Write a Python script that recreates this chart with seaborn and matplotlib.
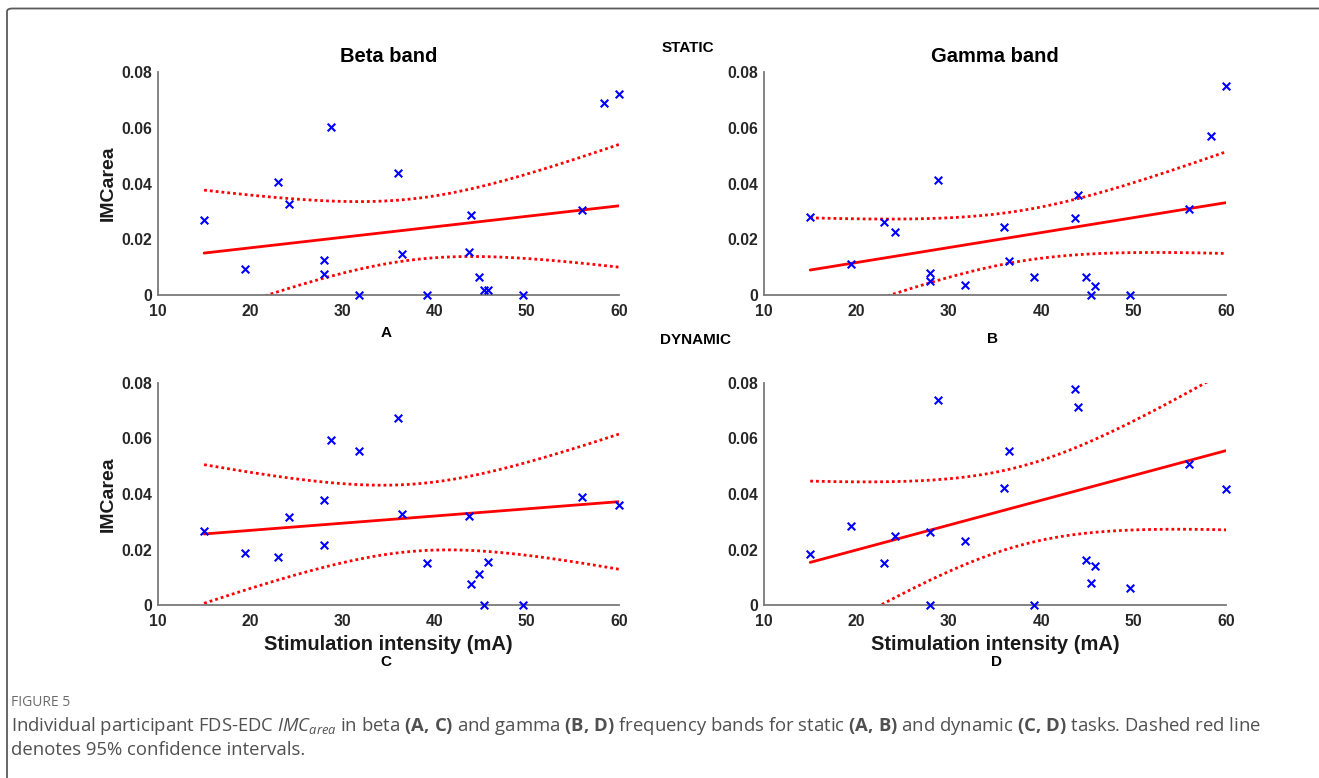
import numpy as np
import pandas as pd
import seaborn as sns
import matplotlib
matplotlib.use("Agg")
import matplotlib.pyplot as plt
from matplotlib.patches import Rectangle, FancyBboxPatch
from matplotlib.ticker import FixedLocator, FuncFormatter

# ---------------- data ----------------
intensity = [15.0, 19.4, 23.0, 24.2, 28.0, 28.0, 28.8, 31.8, 36.0, 36.5,
             39.2, 43.7, 44.0, 44.8, 45.4, 45.8, 49.6, 56.0, 58.4, 60.0]

static_beta = [0.0268, 0.0095, 0.0404, 0.0328, 0.0124, 0.0075, 0.0602, 0.0000, 0.0436, 0.0147,
               0.0000, 0.0153, 0.0287, 0.0064, 0.0017, 0.0019, 0.0000, 0.0306, 0.0687, 0.0720]
static_gamma = [0.0280, 0.0110, 0.0262, 0.0225, 0.0079, 0.0049, 0.0414, 0.0036, 0.0243, 0.0122,
                0.0066, 0.0278, 0.0359, 0.0063, 0.0000, 0.0033, 0.0000, 0.0309, 0.0571, 0.0751]
# value at 58.4 mA lies above the 0.08 axis limit (not visible), estimated
dynamic_beta = [0.0266, 0.0188, 0.0173, 0.0317, 0.0380, 0.0215, 0.0594, 0.0554, 0.0675, 0.0327,
                0.0151, 0.0320, 0.0074, 0.0113, 0.0000, 0.0154, 0.0000, 0.0390, 0.1050, 0.0362]
dynamic_gamma = [0.0184, 0.0283, 0.0153, 0.0250, 0.0262, 0.0000, 0.0739, 0.0230, 0.0422, 0.0554,
                 0.0000, 0.0777, 0.0714, 0.0162, 0.0079, 0.0141, 0.0062, 0.0508, 0.1230, 0.0417]

panel_titles = ["Beta band", "Gamma band", "", ""]
panel_letters = ["A", "B", "C", "D"]
x_ticks = [10, 20, 30, 40, 50, 60]
y_ticks = [0, 0.02, 0.04, 0.06, 0.08]
T_975_DF18 = 2.100922  # t quantile for 95% CI, n-2 = 18 dof

# ---------------- style ----------------
sns.set_theme(style="white")
plt.rcParams['font.family'] = ['Liberation Sans', 'DejaVu Sans']
plt.rcParams['mathtext.fontset'] = 'custom'
plt.rcParams['mathtext.rm'] = 'Open Sans'
plt.rcParams['mathtext.it'] = 'Open Sans:italic'
plt.rcParams['mathtext.bf'] = 'Open Sans:bold'

W, H = 1319, 778
fig = plt.figure(figsize=(W / 100, H / 100), dpi=100)
fig.patch.set_facecolor("white")

def fx(px):
    return px / W

def fy(py):
    return 1 - py / H

axes_px = [(158, 619, 72, 295), (764, 1226, 72, 295),
           (158, 619, 383, 605), (764, 1226, 383, 605)]
series = [static_beta, static_gamma, dynamic_beta, dynamic_gamma]

SPINE = "#7a7a7a"
TICKC = "#262626"

for i, ((l, r, t, b), ys) in enumerate(zip(axes_px, series)):
    ax = fig.add_axes([fx(l), fy(b), fx(r) - fx(l), fy(t) - fy(b)])
    x = np.array(intensity)
    y = np.array(ys)
    df = pd.DataFrame({"x": x, "y": y})

    # linear fit + 95% confidence band of the mean
    n = len(x)
    xm = x.mean()
    sxx = ((x - xm) ** 2).sum()
    slope = ((x - xm) * (y - y.mean())).sum() / sxx
    icpt = y.mean() - slope * xm
    resid = y - (icpt + slope * x)
    s = np.sqrt((resid ** 2).sum() / (n - 2))
    xg = np.linspace(x.min(), x.max(), 200)
    yg = icpt + slope * xg
    half = T_975_DF18 * s * np.sqrt(1 / n + (xg - xm) ** 2 / sxx)
    fit = pd.DataFrame({"x": xg, "fit": yg, "lo": yg - half, "hi": yg + half})

    sns.scatterplot(data=df, x="x", y="y", ax=ax, marker="x", color="#0000ff",
                    s=30, linewidth=1.5, zorder=3)
    clip = Rectangle((-0.02, -0.05), 1.04, 1.05, transform=ax.transAxes)
    for coll in ax.collections:
        coll.set_clip_path(clip)

    sns.lineplot(data=fit, x="x", y="fit", ax=ax, color="#ff0000", linewidth=2.0, zorder=2)
    ax.plot(fit["x"], fit["hi"], color="#ff0000", linewidth=2.0, linestyle=(0, (1, 1.1)), zorder=2)
    ax.plot(fit["x"], fit["lo"], color="#ff0000", linewidth=2.0, linestyle=(0, (1, 1.1)), zorder=2)

    ax.set_xlim(10, 60)
    ax.set_ylim(0, 0.08)
    ax.xaxis.set_major_locator(FixedLocator(x_ticks))
    ax.yaxis.set_major_locator(FixedLocator(y_ticks))
    ax.yaxis.set_major_formatter(FuncFormatter(lambda v, p: "0" if abs(v) < 1e-12 else f"{v:.2f}"))
    ax.xaxis.set_major_formatter(FuncFormatter(lambda v, p: f"{v:.0f}"))
    ax.set_xlabel("")
    ax.set_ylabel("")
    for side in ["top", "right"]:
        ax.spines[side].set_visible(False)
    for side in ["left", "bottom"]:
        ax.spines[side].set_color(SPINE)
        ax.spines[side].set_linewidth(1.3)
    ax.tick_params(axis="both", direction="in", length=4, width=1.0, color=SPINE,
                   labelsize=11.3, labelcolor=TICKC)
    ax.tick_params(axis="x", pad=6.5)
    ax.tick_params(axis="y", pad=4.5)
    for lab in ax.get_xticklabels() + ax.get_yticklabels():
        lab.set_fontweight("bold")
    ax.set_facecolor("white")
    ax.grid(False)

    cx = (l + r) / 2
    if panel_titles[i]:
        fig.text(fx(cx), fy(57), panel_titles[i], ha="center", va="center",
                 fontsize=14.5, fontweight="bold", color="black")
    if i in (0, 2):
        fig.text(fx(108), fy((t + b) / 2), "IMCarea", ha="center", va="center",
                 rotation=90, fontsize=14, fontweight="bold", color="#1a1a1a")
    if i in (2, 3):
        fig.text(fx(cx), fy(645), "Stimulation intensity (mA)", ha="center", va="center",
                 fontsize=14.5, fontweight="bold", color="#1a1a1a")

# panel letters and row headings
fig.text(fx(386), fy(333), "A", ha="center", va="center", fontsize=11, fontweight="bold", color="black")
fig.text(fx(993), fy(339), "B", ha="center", va="center", fontsize=11, fontweight="bold", color="black")
fig.text(fx(386), fy(662), "C", ha="center", va="center", fontsize=11, fontweight="bold", color="black")
fig.text(fx(996), fy(662), "D", ha="center", va="center", fontsize=11, fontweight="bold", color="black")
fig.text(fx(688), fy(48), "STATIC", ha="center", va="center", fontsize=11, fontweight="bold", color="black")
fig.text(fx(695), fy(340), "DYNAMIC", ha="center", va="center", fontsize=11, fontweight="bold", color="black")

# caption
fig.text(fx(11), fy(702), "FIGURE 5", ha="left", va="center", fontsize=10,
         family=["Open Sans", "DejaVu Sans"], color="#6b6b6b")
cap1 = (r"Individual participant FDS-EDC $\mathit{IMC}_{\mathit{area}}$ in beta $\mathbf{(A,\!}$ $\mathbf{C)}$ "
        r"and gamma $\mathbf{(B,\!}$ $\mathbf{D)}$ frequency bands for static $\mathbf{(A,\!}$ $\mathbf{B)}$ and dynamic "
        r"$\mathbf{(C,\!}$ $\mathbf{D)}$ tasks. Dashed red line")
fig.text(fx(11), fy(726), cap1, ha="left", va="center", fontsize=13.3,
         family=["Open Sans", "DejaVu Sans"], color="#505050")
fig.text(fx(11), fy(750), "denotes 95% confidence intervals.", ha="left", va="center", fontsize=13.3,
         family=["Open Sans", "DejaVu Sans"], color="#505050")

# outer frame
frame = FancyBboxPatch((fx(7), fy(790)), fx(1340) - fx(7), fy(8.5) - fy(790),
                       boxstyle="round,pad=0,rounding_size=0.004", transform=fig.transFigure,
                       facecolor="none", edgecolor="#5a5a5a", linewidth=1.3, clip_on=False)
fig.patches.append(frame)

fig.savefig("out.png", dpi=100, facecolor="white")
